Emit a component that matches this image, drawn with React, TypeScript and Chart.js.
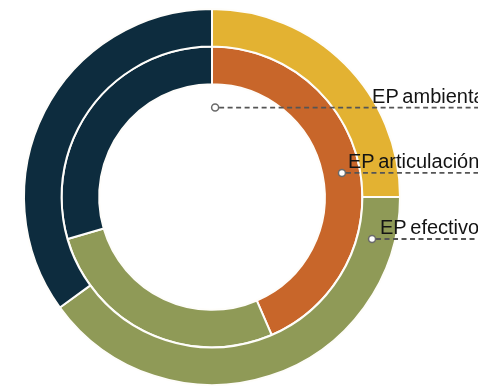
import React, { useEffect, useRef } from "react";
import { Chart, registerables } from "chart.js";

Chart.register(...registerables);

// Outer ring
const outerLabels = ["EP ambiental", "EP efectivo", "Otros"];
const outerValues = [25, 40, 35];
const outerColors = ["#E3B232", "#8F9A57", "#0D2C3E"];

// Inner ring
const innerLabels = ["EP articulación", "EP efectivo", "Otros"];
const innerValues = [43.5, 27, 29.5];
const innerColors = ["#C8662A", "#8F9A57", "#0D2C3E"];

// Callout labels
const calloutTexts = ["EP ambiental", "EP articulación", "EP efectivo"];

// Callout anchor layout (angle clockwise from 12 o'clock, radius as fraction of outer radius, text offset)
const calloutLayout = [
  { angle: 2, rFrac: 0.476, textDx: 157 },
  { angle: 79.5, rFrac: 0.703, textDx: 6 },
  { angle: 104.7, rFrac: 0.88, textDx: 8 },
];

const calloutPlugin = {
  id: "callouts",
  afterDraw(chart: any) {
    const meta = chart.getDatasetMeta(0);
    const arc = meta.data[0];
    if (!arc) return;
    const cx = arc.x;
    const cy = arc.y;
    const R = arc.outerRadius;
    const ctx = chart.ctx;
    const W = chart.width;
    ctx.save();
    calloutTexts.forEach((t, i) => {
      const l = calloutLayout[i];
      const a = (l.angle * Math.PI) / 180;
      const r = R * l.rFrac;
      const px = cx + r * Math.sin(a);
      const py = cy - r * Math.cos(a);
      // dashed leader
      ctx.beginPath();
      ctx.setLineDash([5, 3.5]);
      ctx.strokeStyle = "#555555";
      ctx.lineWidth = 1.8;
      ctx.moveTo(px + 4, py);
      ctx.lineTo(W, py);
      ctx.stroke();
      ctx.setLineDash([]);
      // marker
      ctx.beginPath();
      ctx.arc(px, py, 3.5, 0, Math.PI * 2);
      ctx.fillStyle = "#ffffff";
      ctx.fill();
      ctx.lineWidth = 1.5;
      ctx.strokeStyle = "#6a6a6a";
      ctx.stroke();
      // text
      ctx.font = "20px 'Liberation Sans', Arial, sans-serif";
      ctx.fillStyle = "#141414";
      ctx.textAlign = "left";
      ctx.textBaseline = "alphabetic";
      try {
        (ctx as any).wordSpacing = "-2px";
      } catch (e) {}
      ctx.fillText(t, px + l.textDx, py - 5);
    });
    ctx.restore();
  },
};

export default function App() {
  const ref = useRef<HTMLCanvasElement | null>(null);
  useEffect(() => {
    if (!ref.current) return;
    const chart = new Chart(ref.current, {
      type: "doughnut",
      data: {
        labels: outerLabels,
        datasets: [
          {
            label: "Exterior",
            data: outerValues,
            backgroundColor: outerColors,
            borderColor: "#fefdfa",
            borderWidth: 2,
          },
          {
            label: "Interior",
            data: innerValues,
            backgroundColor: innerColors,
            borderColor: "#fefdfa",
            borderWidth: 2,
          },
        ],
      },
      options: {
        responsive: false,
        maintainAspectRatio: false,
        animation: false,
        cutout: "60%",
        layout: { padding: { left: 23, top: 8, right: 77, bottom: 0 } },
        plugins: {
          legend: { display: false },
          tooltip: { enabled: false },
        },
      },
      plugins: [calloutPlugin],
    });
    return () => chart.destroy();
  }, []);
  return (
    <div style={{ position: "absolute", left: 0, top: 0, width: 478, height: 386, background: "#ffffff" }}>
      <canvas ref={ref} width={478} height={386} style={{ width: 478, height: 386, display: "block" }} />
    </div>
  );
}
